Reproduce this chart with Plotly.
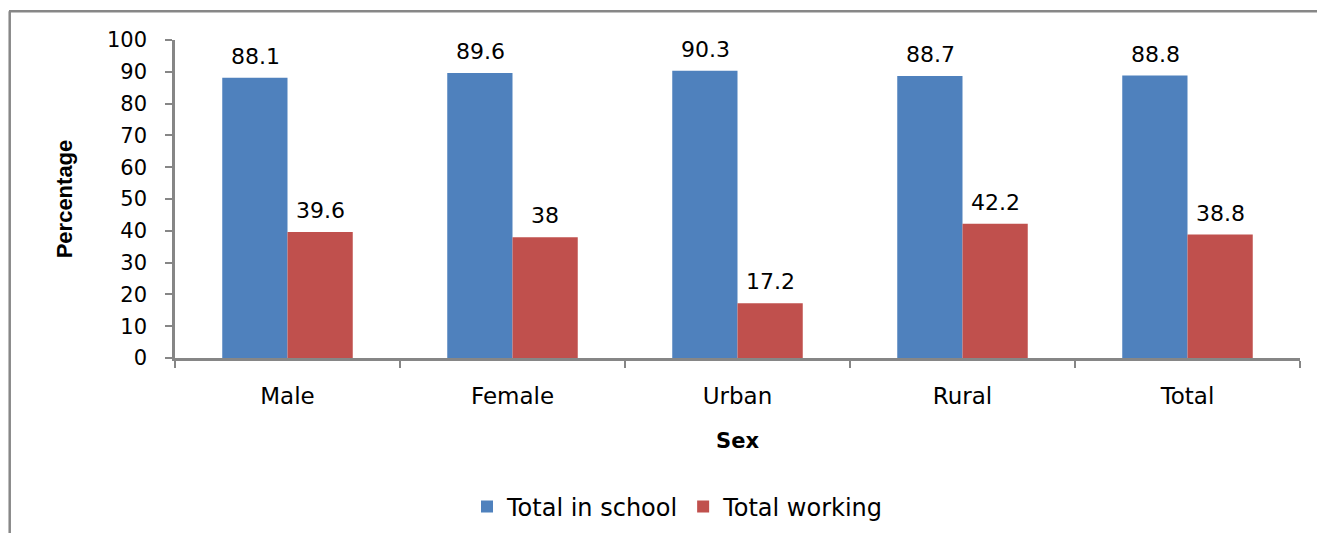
import plotly.graph_objects as go

categories = ["Male", "Female", "Urban", "Rural", "Total"]
in_school = [88.1, 89.6, 90.3, 88.7, 88.8]
working = [39.6, 38, 17.2, 42.2, 38.8]
series_names = ["Total in school", "Total working"]
colors = ["#4F81BD", "#C0504D"]
y_ticks = list(range(0, 101, 10))

FONT = "DejaVu Sans"
OFF = 8  # page body margin

W, H = 1325 - OFF, 533 - OFF
L, R, T, B = 175 - OFF, 1300 - OFF, 40 - OFF, 358 - OFF

fig = go.Figure()
for name, vals, col in zip(series_names, [in_school, working], colors):
    fig.add_trace(go.Bar(
        x=categories, y=vals, name=name,
        marker=dict(color=col, line=dict(width=0)),
        hoverinfo="skip",
    ))

# value labels above bars
for vals, shift in [(in_school, -32.5), (working, 32.5)]:
    for c, v in zip(categories, vals):
        fig.add_annotation(
            x=c, y=v, text=f"{v:g}", showarrow=False,
            xref="x", yref="y", xshift=shift, yshift=7,
            yanchor="bottom", xanchor="center",
            font=dict(family=FONT, size=22, color="#000000"),
        )

def px_x(p): return (p - OFF - L) / (R - L)
def px_y(p): return (B - (p - OFF)) / (B - T)

# outer frame (top and left edges)
fig.add_shape(type="line", xref="paper", yref="paper",
              x0=px_x(9), x1=px_x(1330), y0=px_y(11.3), y1=px_y(11.3),
              line=dict(color="#878787", width=2.5))
fig.add_shape(type="line", xref="paper", yref="paper",
              x0=px_x(9.7), x1=px_x(9.7), y0=px_y(11.3), y1=px_y(545),
              line=dict(color="#878787", width=2.5))

fig.update_layout(
    width=W, height=H,
    margin=dict(l=L, r=W - R, t=T, b=H - B, autoexpand=False),
    paper_bgcolor="white", plot_bgcolor="white",
    barmode="group", bargap=0.42, bargroupgap=0,
    font=dict(family=FONT, color="#000000"),
    showlegend=True,
    legend=dict(
        orientation="h", x=px_x(678), xanchor="center", y=px_y(507), yanchor="middle",
        font=dict(family=FONT, size=24, color="#000000"),
        itemsizing="constant", itemwidth=30, tracegroupgap=0,
    ),
    xaxis=dict(
        type="category", showgrid=False, zeroline=False, automargin=False,
        showline=True, linecolor="#868686", linewidth=2.5,
        ticks="outside", tickson="boundaries", ticklen=7, tickwidth=2, tickcolor="#868686",
        tickfont=dict(family=FONT, size=23, color="#000000"),
        ticklabelstandoff=16,
        title=dict(text="<b>Sex</b>", font=dict(family=FONT, size=21, color="#000000"), standoff=25),
    ),
    yaxis=dict(
        range=[0, 100], tickvals=y_ticks, showgrid=False, zeroline=False, automargin=False,
        showline=True, linecolor="#868686", linewidth=2.5,
        ticks="outside", ticklen=7, tickwidth=2, tickcolor="#868686",
        tickfont=dict(family=FONT, size=21, color="#000000"),
        ticklabelstandoff=14,
        title=dict(text="<b>Percentage</b>", font=dict(family="Liberation Sans", size=22, color="#000000"), standoff=29),
    ),
)

fig.write_html("out.html")
